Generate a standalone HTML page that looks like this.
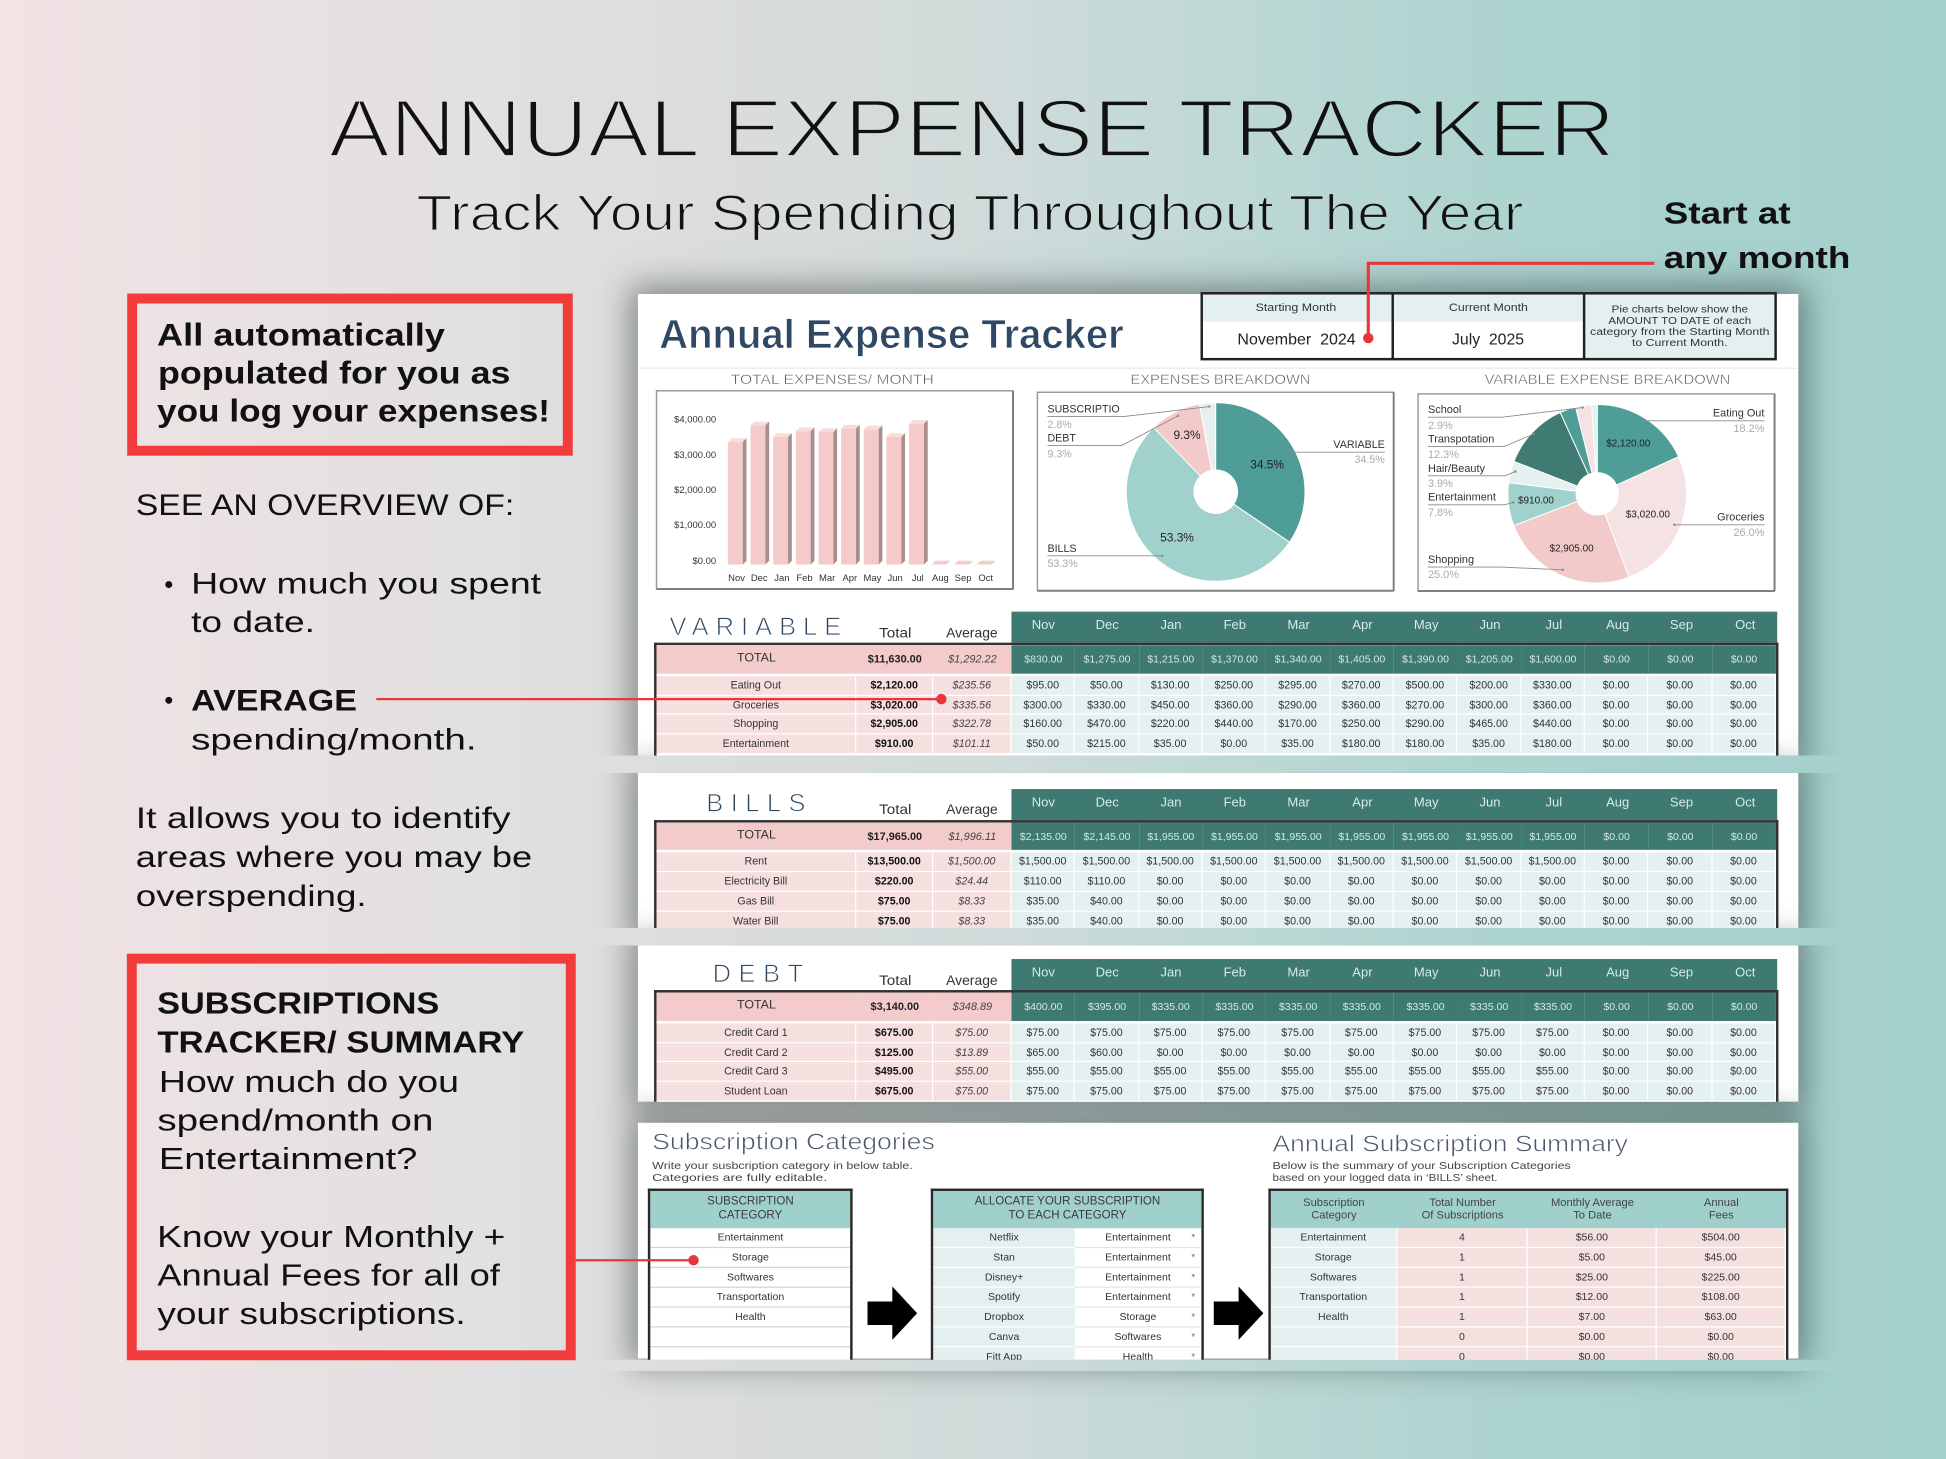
<!DOCTYPE html>
<html><head><meta charset="utf-8">
<style>
html,body{margin:0;padding:0;width:1946px;height:1459px;overflow:hidden;background:#dcdcdc}
#c{position:absolute;left:0;top:0;width:1568px;height:1176px;transform-origin:0 0;transform:scale(1.24107,1.24065);overflow:hidden;font-family:"Liberation Sans",sans-serif;
background:linear-gradient(90deg,#f2e3e4 0%,#e8e1e2 14%,#e0dfdf 28%,#d9dcdc 40%,#cedbda 52%,#bdd8d5 64%,#afd4d0 76%,#a7d1cd 88%,#a4d0cc 100%)}
.band{position:absolute;left:0;width:1568px;background:linear-gradient(90deg,#f2e3e4 0%,#e8e1e2 14%,#e0dfdf 28%,#d9dcdc 40%,#cedbda 52%,#bdd8d5 64%,#afd4d0 76%,#a7d1cd 88%,#a4d0cc 100%)}
.sheet{position:absolute;left:514px;width:934.5px;background:#fff;box-shadow:0 0 24px 6px rgba(40,48,48,.5)}
.hb{position:absolute;left:815px;width:617px;height:25px;background:#3e7a72;display:grid;grid-template-columns:repeat(12,1fr)}
.hb span{color:#d6ebe8;font-size:10.5px;text-align:center;line-height:23px}
.fr{position:absolute;background:#333}
.tbl{position:absolute;left:529px;width:902px;overflow:hidden;background:#fff}
.row{display:grid;grid-template-columns:161px 62px 63px repeat(12,51.333px)}
.row span{display:block;box-sizing:border-box;text-align:center;white-space:nowrap;overflow:hidden;font-size:8.6px;color:#333}
.t{height:22.7px;margin-bottom:1.6px}
.t span{line-height:22.7px;background:#3e7a72;color:#d3e9e6;font-size:8.5px}
.t span:nth-child(-n+3){background:#f4cbcb;color:#222}
.t span:first-child{font-size:10px;color:#333}
.t span:nth-child(2){font-weight:bold;font-size:8.8px}
.t span:nth-child(3){font-style:italic;font-size:8.8px;color:#444}
.d{height:15.9px}
.d span{line-height:15px;border-right:1px solid #fff;border-bottom:1px solid #fff;background:#e4f1f0}
.d span:nth-child(-n+3){background:#f6dfdf}
.d span:nth-child(2){font-weight:bold;color:#111}
.d span:nth-child(3){font-style:italic;color:#444}
.st{position:absolute;top:958px;height:137.5px;border:2px solid #2a2a2a;border-bottom:none;box-sizing:border-box;overflow:hidden;background:#fff}
.sh{height:29.8px;background:#a0d0cc;text-align:center;font-size:9.3px;color:#3a3a3a;line-height:11px;padding-top:3.2px;box-sizing:border-box}
.sr{display:grid;height:16.1px}
.sr span{display:block;position:relative;box-sizing:border-box;text-align:center;line-height:15.1px;font-size:8.5px;color:#333;white-space:nowrap;overflow:hidden;border-bottom:1px solid #d4d4d4}
.s2 span:first-child{background:#e3f0ef;border-bottom:1px solid #fff}
.s2 span:last-child{border-bottom:1px solid #e6e6e6}
.s2 em{position:absolute;right:5px;top:0;font-style:normal;font-size:6px;color:#999}
.sh3{display:grid;grid-template-columns:102.4px 105px 104.3px 1fr;height:29.8px;background:#a0d0cc}
.sh3 span{text-align:center;font-size:9px;line-height:10.8px;padding-top:3.6px;color:#444}
.s3{grid-template-columns:102.4px 105px 104.3px 1fr}
.s3 span{background:#f5e0e0;border-bottom:1px solid #fff;border-right:1px solid #fff}
.s3 span:first-child{background:#e4f1f0}
</style></head>
<body>
<div id="c">
<div class="sheet" style="top:236.5px;height:372.7px"></div>
<div class="sheet" style="top:623.2px;height:124.8px"></div>
<div class="sheet" style="top:762.3px;height:125.4px"></div>
<div class="sheet" style="top:904.6px;height:190.9px"></div>
<div class="band" style="top:609.2px;height:14px"></div>
<div class="band" style="top:748px;height:14.3px"></div>
<div class="band" style="top:1095.5px;height:9px"></div>

<!-- VARIABLE -->
<div class="hb" style="top:493.4px"><span>Nov</span><span>Dec</span><span>Jan</span><span>Feb</span><span>Mar</span><span>Apr</span><span>May</span><span>Jun</span><span>Jul</span><span>Aug</span><span>Sep</span><span>Oct</span></div>
<div class="fr" style="left:527px;top:518.4px;width:906px;height:2px"></div>
<div class="fr" style="left:527px;top:518.4px;width:2px;height:90.8px"></div>
<div class="fr" style="left:1431px;top:518.4px;width:2px;height:90.8px"></div>
<div class="tbl" style="top:520.4px;height:88.8px">
<div class="row t"><span>TOTAL</span><span>$11,630.00</span><span>$1,292.22</span><span>$830.00</span><span>$1,275.00</span><span>$1,215.00</span><span>$1,370.00</span><span>$1,340.00</span><span>$1,405.00</span><span>$1,390.00</span><span>$1,205.00</span><span>$1,600.00</span><span>$0.00</span><span>$0.00</span><span>$0.00</span></div>
<div class="row d"><span>Eating Out</span><span>$2,120.00</span><span>$235.56</span><span>$95.00</span><span>$50.00</span><span>$130.00</span><span>$250.00</span><span>$295.00</span><span>$270.00</span><span>$500.00</span><span>$200.00</span><span>$330.00</span><span>$0.00</span><span>$0.00</span><span>$0.00</span></div>
<div class="row d"><span>Groceries</span><span>$3,020.00</span><span>$335.56</span><span>$300.00</span><span>$330.00</span><span>$450.00</span><span>$360.00</span><span>$290.00</span><span>$360.00</span><span>$270.00</span><span>$300.00</span><span>$360.00</span><span>$0.00</span><span>$0.00</span><span>$0.00</span></div>
<div class="row d"><span>Shopping</span><span>$2,905.00</span><span>$322.78</span><span>$160.00</span><span>$470.00</span><span>$220.00</span><span>$440.00</span><span>$170.00</span><span>$250.00</span><span>$290.00</span><span>$465.00</span><span>$440.00</span><span>$0.00</span><span>$0.00</span><span>$0.00</span></div>
<div class="row d"><span>Entertainment</span><span>$910.00</span><span>$101.11</span><span>$50.00</span><span>$215.00</span><span>$35.00</span><span>$0.00</span><span>$35.00</span><span>$180.00</span><span>$180.00</span><span>$35.00</span><span>$180.00</span><span>$0.00</span><span>$0.00</span><span>$0.00</span></div>
</div>

<!-- BILLS -->
<div class="hb" style="top:635.8px"><span>Nov</span><span>Dec</span><span>Jan</span><span>Feb</span><span>Mar</span><span>Apr</span><span>May</span><span>Jun</span><span>Jul</span><span>Aug</span><span>Sep</span><span>Oct</span></div>
<div class="fr" style="left:527px;top:660.8px;width:906px;height:2px"></div>
<div class="fr" style="left:527px;top:660.8px;width:2px;height:87.2px"></div>
<div class="fr" style="left:1431px;top:660.8px;width:2px;height:87.2px"></div>
<div class="tbl" style="top:662.8px;height:85.2px">
<div class="row t"><span>TOTAL</span><span>$17,965.00</span><span>$1,996.11</span><span>$2,135.00</span><span>$2,145.00</span><span>$1,955.00</span><span>$1,955.00</span><span>$1,955.00</span><span>$1,955.00</span><span>$1,955.00</span><span>$1,955.00</span><span>$1,955.00</span><span>$0.00</span><span>$0.00</span><span>$0.00</span></div>
<div class="row d"><span>Rent</span><span>$13,500.00</span><span>$1,500.00</span><span>$1,500.00</span><span>$1,500.00</span><span>$1,500.00</span><span>$1,500.00</span><span>$1,500.00</span><span>$1,500.00</span><span>$1,500.00</span><span>$1,500.00</span><span>$1,500.00</span><span>$0.00</span><span>$0.00</span><span>$0.00</span></div>
<div class="row d"><span>Electricity Bill</span><span>$220.00</span><span>$24.44</span><span>$110.00</span><span>$110.00</span><span>$0.00</span><span>$0.00</span><span>$0.00</span><span>$0.00</span><span>$0.00</span><span>$0.00</span><span>$0.00</span><span>$0.00</span><span>$0.00</span><span>$0.00</span></div>
<div class="row d"><span>Gas Bill</span><span>$75.00</span><span>$8.33</span><span>$35.00</span><span>$40.00</span><span>$0.00</span><span>$0.00</span><span>$0.00</span><span>$0.00</span><span>$0.00</span><span>$0.00</span><span>$0.00</span><span>$0.00</span><span>$0.00</span><span>$0.00</span></div>
<div class="row d"><span>Water Bill</span><span>$75.00</span><span>$8.33</span><span>$35.00</span><span>$40.00</span><span>$0.00</span><span>$0.00</span><span>$0.00</span><span>$0.00</span><span>$0.00</span><span>$0.00</span><span>$0.00</span><span>$0.00</span><span>$0.00</span><span>$0.00</span></div>
</div>

<!-- DEBT -->
<div class="hb" style="top:773.4px"><span>Nov</span><span>Dec</span><span>Jan</span><span>Feb</span><span>Mar</span><span>Apr</span><span>May</span><span>Jun</span><span>Jul</span><span>Aug</span><span>Sep</span><span>Oct</span></div>
<div class="fr" style="left:527px;top:798.4px;width:906px;height:2px"></div>
<div class="fr" style="left:527px;top:798.4px;width:2px;height:89.3px"></div>
<div class="fr" style="left:1431px;top:798.4px;width:2px;height:89.3px"></div>
<div class="tbl" style="top:800.4px;height:87.3px">
<div class="row t"><span>TOTAL</span><span>$3,140.00</span><span>$348.89</span><span>$400.00</span><span>$395.00</span><span>$335.00</span><span>$335.00</span><span>$335.00</span><span>$335.00</span><span>$335.00</span><span>$335.00</span><span>$335.00</span><span>$0.00</span><span>$0.00</span><span>$0.00</span></div>
<div class="row d"><span>Credit Card 1</span><span>$675.00</span><span>$75.00</span><span>$75.00</span><span>$75.00</span><span>$75.00</span><span>$75.00</span><span>$75.00</span><span>$75.00</span><span>$75.00</span><span>$75.00</span><span>$75.00</span><span>$0.00</span><span>$0.00</span><span>$0.00</span></div>
<div class="row d"><span>Credit Card 2</span><span>$125.00</span><span>$13.89</span><span>$65.00</span><span>$60.00</span><span>$0.00</span><span>$0.00</span><span>$0.00</span><span>$0.00</span><span>$0.00</span><span>$0.00</span><span>$0.00</span><span>$0.00</span><span>$0.00</span><span>$0.00</span></div>
<div class="row d"><span>Credit Card 3</span><span>$495.00</span><span>$55.00</span><span>$55.00</span><span>$55.00</span><span>$55.00</span><span>$55.00</span><span>$55.00</span><span>$55.00</span><span>$55.00</span><span>$55.00</span><span>$55.00</span><span>$0.00</span><span>$0.00</span><span>$0.00</span></div>
<div class="row d"><span>Student Loan</span><span>$675.00</span><span>$75.00</span><span>$75.00</span><span>$75.00</span><span>$75.00</span><span>$75.00</span><span>$75.00</span><span>$75.00</span><span>$75.00</span><span>$75.00</span><span>$75.00</span><span>$0.00</span><span>$0.00</span><span>$0.00</span></div>
</div>

<!-- Subscription tables -->
<div class="st" style="left:522px;width:165.3px">
<div class="sh">SUBSCRIPTION<br>CATEGORY</div>
<div class="sr"><span>Entertainment</span></div>
<div class="sr"><span>Storage</span></div>
<div class="sr"><span>Softwares</span></div>
<div class="sr"><span>Transportation</span></div>
<div class="sr"><span>Health</span></div>
<div class="sr"><span></span></div>
<div class="sr"><span></span></div>
</div>
<div class="st" style="left:750.3px;width:219.7px">
<div class="sh">ALLOCATE YOUR SUBSCRIPTION<br>TO EACH CATEGORY</div>
<div class="sr s2" style="grid-template-columns:113.5px 1fr"><span>Netflix</span><span>Entertainment<em>▾</em></span></div>
<div class="sr s2" style="grid-template-columns:113.5px 1fr"><span>Stan</span><span>Entertainment<em>▾</em></span></div>
<div class="sr s2" style="grid-template-columns:113.5px 1fr"><span>Disney+</span><span>Entertainment<em>▾</em></span></div>
<div class="sr s2" style="grid-template-columns:113.5px 1fr"><span>Spotify</span><span>Entertainment<em>▾</em></span></div>
<div class="sr s2" style="grid-template-columns:113.5px 1fr"><span>Dropbox</span><span>Storage<em>▾</em></span></div>
<div class="sr s2" style="grid-template-columns:113.5px 1fr"><span>Canva</span><span>Softwares<em>▾</em></span></div>
<div class="sr s2" style="grid-template-columns:113.5px 1fr"><span>Fitt App</span><span>Health<em>▾</em></span></div>
</div>
<div class="st" style="left:1021.6px;width:419px">
<div class="sh3"><span>Subscription<br>Category</span><span>Total Number<br>Of Subscriptions</span><span>Monthly Average<br>To Date</span><span>Annual<br>Fees</span></div>
<div class="sr s3"><span>Entertainment</span><span>4</span><span>$56.00</span><span>$504.00</span></div>
<div class="sr s3"><span>Storage</span><span>1</span><span>$5.00</span><span>$45.00</span></div>
<div class="sr s3"><span>Softwares</span><span>1</span><span>$25.00</span><span>$225.00</span></div>
<div class="sr s3"><span>Transportation</span><span>1</span><span>$12.00</span><span>$108.00</span></div>
<div class="sr s3"><span>Health</span><span>1</span><span>$7.00</span><span>$63.00</span></div>
<div class="sr s3"><span></span><span>0</span><span>$0.00</span><span>$0.00</span></div>
<div class="sr s3"><span></span><span>0</span><span>$0.00</span><span>$0.00</span></div>
</div>

<svg style="position:absolute;left:0;top:0" width="1568" height="1176" viewBox="0 0 1568 1176" font-family="Liberation Sans, sans-serif">
<defs>
<linearGradient id="bgg" gradientUnits="userSpaceOnUse" x1="0" y1="0" x2="1568" y2="0">
<stop offset="0" stop-color="#f2e3e4"/><stop offset="0.14" stop-color="#e8e1e2"/><stop offset="0.28" stop-color="#e0dfdf"/><stop offset="0.40" stop-color="#d9dcdc"/><stop offset="0.52" stop-color="#cedbda"/><stop offset="0.64" stop-color="#bdd8d5"/><stop offset="0.76" stop-color="#afd4d0"/><stop offset="0.88" stop-color="#a7d1cd"/><stop offset="1" stop-color="#a4d0cc"/>
</linearGradient>
</defs>
<!-- Headline -->
<g fill="#111">
<text x="264.9" y="126.2" font-size="66" textLength="1036.7" lengthAdjust="spacingAndGlyphs" stroke="url(#bgg)" stroke-width="2.2">ANNUAL EXPENSE TRACKER</text>
<text x="335.6" y="185.3" font-size="40" textLength="892" lengthAdjust="spacingAndGlyphs" stroke="url(#bgg)" stroke-width="1.1">Track Your Spending Throughout The Year</text>
<text x="1340.6" y="180" font-size="24.5" font-weight="bold" textLength="102.2" lengthAdjust="spacingAndGlyphs">Start at</text>
<text x="1340.6" y="216.2" font-size="24.5" font-weight="bold" textLength="150.4" lengthAdjust="spacingAndGlyphs">any month</text>
</g>

<!-- Left panel -->
<rect x="106.5" y="240.6" width="351" height="122.7" fill="none" stroke="#f23b3b" stroke-width="8"/>
<rect x="106.2" y="772.7" width="353.7" height="319.7" fill="none" stroke="#f23b3b" stroke-width="8"/>
<g fill="#111" font-size="25" font-weight="bold">
<text x="126.5" y="278.5" textLength="232" lengthAdjust="spacingAndGlyphs">All automatically</text>
<text x="127.3" y="309.2" textLength="284" lengthAdjust="spacingAndGlyphs">populated for you as</text>
<text x="126.5" y="339.6" textLength="316.7" lengthAdjust="spacingAndGlyphs">you log your expenses!</text>
</g>
<g fill="#111" font-size="24">
<text x="109.4" y="415.1" textLength="305" lengthAdjust="spacingAndGlyphs">SEE AN OVERVIEW OF:</text>
<text x="154" y="478.3" textLength="282" lengthAdjust="spacingAndGlyphs">How much you spent</text>
<text x="154" y="509.6" textLength="99.8" lengthAdjust="spacingAndGlyphs">to date.</text>
<text x="154" y="572.8" font-weight="bold" textLength="133.6" lengthAdjust="spacingAndGlyphs">AVERAGE</text>
<text x="154" y="604" textLength="230" lengthAdjust="spacingAndGlyphs">spending/month.</text>
<text x="109.4" y="667.5" textLength="302" lengthAdjust="spacingAndGlyphs">It allows you to identify</text>
<text x="109.4" y="698.8" textLength="319.4" lengthAdjust="spacingAndGlyphs">areas where you may be</text>
<text x="109.4" y="730.1" textLength="186" lengthAdjust="spacingAndGlyphs">overspending.</text>
</g>
<circle cx="136" cy="471.2" r="2.8" fill="#111"/>
<circle cx="136" cy="564.5" r="2.8" fill="#111"/>
<g fill="#111" font-size="24.3">
<text x="126.6" y="817.1" font-weight="bold" textLength="227.4" lengthAdjust="spacingAndGlyphs">SUBSCRIPTIONS</text>
<text x="126.8" y="848.2" font-weight="bold" textLength="295.7" lengthAdjust="spacingAndGlyphs">TRACKER/ SUMMARY</text>
<text x="128" y="880" textLength="241.8" lengthAdjust="spacingAndGlyphs">How much do you</text>
<text x="126.8" y="911.2" textLength="222.4" lengthAdjust="spacingAndGlyphs">spend/month on</text>
<text x="128" y="942.4" textLength="208.3" lengthAdjust="spacingAndGlyphs">Entertainment?</text>
<text x="126.6" y="1005" textLength="280.6" lengthAdjust="spacingAndGlyphs">Know your Monthly +</text>
<text x="126.8" y="1036" textLength="276" lengthAdjust="spacingAndGlyphs">Annual Fees for all of</text>
<text x="126.8" y="1067" textLength="248.4" lengthAdjust="spacingAndGlyphs">your subscriptions.</text>
</g>

<!-- Top sheet header -->
<line x1="514" y1="296.8" x2="1448" y2="296.8" stroke="#ececec" stroke-width="1"/>
<text x="531.2" y="280.7" font-size="33" font-weight="bold" fill="#2f4965" textLength="374.2" lengthAdjust="spacingAndGlyphs" stroke="#fff" stroke-width="0.6">Annual Expense Tracker</text>
<rect x="968.3" y="236.4" width="308.1" height="22.8" fill="#e3f0ef"/>
<rect x="1276.4" y="236.4" width="154.3" height="53.1" fill="#e3f0ef"/>
<rect x="968.3" y="236.4" width="462.4" height="53.1" fill="none" stroke="#222" stroke-width="2"/>
<line x1="1122.2" y1="236.4" x2="1122.2" y2="289.5" stroke="#222" stroke-width="2"/>
<line x1="1276.4" y1="236.4" x2="1276.4" y2="289.5" stroke="#222" stroke-width="2"/>
<g fill="#333" text-anchor="middle">
<text x="1044.2" y="250.6" font-size="8.8" textLength="65" lengthAdjust="spacingAndGlyphs">Starting Month</text>
<text x="1199.3" y="250.6" font-size="8.8" textLength="63.7" lengthAdjust="spacingAndGlyphs">Current Month</text>
<text x="1044.7" y="277.5" font-size="12.3" fill="#222" textLength="95.3" lengthAdjust="spacingAndGlyphs">November&#160; 2024</text>
<text x="1199" y="277.5" font-size="12.3" fill="#222" textLength="58" lengthAdjust="spacingAndGlyphs">July&#160; 2025</text>
<text x="1353.5" y="252" font-size="8.3" textLength="110" lengthAdjust="spacingAndGlyphs">Pie charts below show the</text>
<text x="1353.5" y="261" font-size="8.3" textLength="115" lengthAdjust="spacingAndGlyphs">AMOUNT TO DATE of each</text>
<text x="1353.5" y="270.2" font-size="8.3" textLength="144.6" lengthAdjust="spacingAndGlyphs">category from the Starting Month</text>
<text x="1353.5" y="279" font-size="8.3" textLength="77" lengthAdjust="spacingAndGlyphs">to Current Month.</text>
</g>
<path d="M1333,212.2 H1102.5 V272.5" stroke="#e8373c" stroke-width="2.5" fill="none"/>
<circle cx="1102.5" cy="272.5" r="4.2" fill="#e8373c"/>

<!-- Chart titles -->
<g fill="#555" font-size="11.3" text-anchor="middle" stroke="#fff" stroke-width="0.35">
<text x="670.6" y="309.7" textLength="163.6" lengthAdjust="spacingAndGlyphs">TOTAL EXPENSES/ MONTH</text>
<text x="983.4" y="309.7" textLength="145.2" lengthAdjust="spacingAndGlyphs">EXPENSES BREAKDOWN</text>
<text x="1295.2" y="309.7" textLength="198" lengthAdjust="spacingAndGlyphs">VARIABLE EXPENSE BREAKDOWN</text>
</g>
<!-- Chart boxes -->
<g fill="#fff" stroke="#9a9a9a" stroke-width="1.2">
<rect x="529" y="315" width="287" height="159.6"/>
<rect x="835.9" y="316.2" width="287" height="159.8"/>
<rect x="1142.6" y="317.5" width="287.1" height="158.7"/>
</g>
<g stroke="#7d7d7d" stroke-width="1.5">
<line x1="529" y1="474.8" x2="816.5" y2="474.8"/><line x1="816.3" y1="315" x2="816.3" y2="474.8"/>
<line x1="835.9" y1="476.2" x2="1123.2" y2="476.2"/><line x1="1123" y1="316.2" x2="1123" y2="476.2"/>
<line x1="1142.6" y1="476.4" x2="1430" y2="476.4"/><line x1="1429.9" y1="317.5" x2="1429.9" y2="476.4"/>
</g>

<!-- Bar chart -->
<g fill="#333" font-size="7.6" text-anchor="end">
<text x="577" y="340.6">$4,000.00</text>
<text x="577" y="369">$3,000.00</text>
<text x="577" y="397.5">$2,000.00</text>
<text x="577" y="425.7">$1,000.00</text>
<text x="577" y="454.5">$0.00</text>
</g>
<g fill="#f4caca">
<rect x="586.5" y="356.2" width="12" height="98.8"/>
<rect x="604.75" y="342.8" width="12" height="112.2"/>
<rect x="623" y="352.2" width="12" height="102.8"/>
<rect x="641.25" y="347.6" width="12" height="107.4"/>
<rect x="659.5" y="348.3" width="12" height="106.7"/>
<rect x="677.75" y="345.5" width="12" height="109.5"/>
<rect x="696" y="346" width="12" height="109"/>
<rect x="714.25" y="352.2" width="12" height="102.8"/>
<rect x="732.5" y="341.6" width="12" height="113.4"/>
<polygon points="750.75,455 753.75,452 765.75,452 762.75,455"/>
<polygon points="769,455 772,452 784,452 781,455"/>
<polygon points="787.25,455 790.25,452 802.25,452 799.25,455"/>
</g>
<g fill="#f8dcdc">
<polygon points="586.5,356.2 589.5,353.2 601.5,353.2 598.5,356.2"/>
<polygon points="604.75,342.8 607.75,339.8 619.75,339.8 616.75,342.8"/>
<polygon points="623,352.2 626,349.2 638,349.2 635,352.2"/>
<polygon points="641.25,347.6 644.25,344.6 656.25,344.6 653.25,347.6"/>
<polygon points="659.5,348.3 662.5,345.3 674.5,345.3 671.5,348.3"/>
<polygon points="677.75,345.5 680.75,342.5 692.75,342.5 689.75,345.5"/>
<polygon points="696,346 699,343 711,343 708,346"/>
<polygon points="714.25,352.2 717.25,349.2 729.25,349.2 726.25,352.2"/>
<polygon points="732.5,341.6 735.5,338.6 747.5,338.6 744.5,341.6"/>
</g>
<g fill="#a88e8e">
<polygon points="598.5,356.2 601.5,353.2 601.5,452 598.5,455"/>
<polygon points="616.75,342.8 619.75,339.8 619.75,452 616.75,455"/>
<polygon points="635,352.2 638,349.2 638,452 635,455"/>
<polygon points="653.25,347.6 656.25,344.6 656.25,452 653.25,455"/>
<polygon points="671.5,348.3 674.5,345.3 674.5,452 671.5,455"/>
<polygon points="689.75,345.5 692.75,342.5 692.75,452 689.75,455"/>
<polygon points="708,346 711,343 711,452 708,455"/>
<polygon points="726.25,352.2 729.25,349.2 729.25,452 726.25,455"/>
<polygon points="744.5,341.6 747.5,338.6 747.5,452 744.5,455"/>
</g>
<g fill="#333" font-size="7.6" text-anchor="middle">
<text x="593.5" y="468.2">Nov</text><text x="611.75" y="468.2">Dec</text><text x="630" y="468.2">Jan</text><text x="648.25" y="468.2">Feb</text><text x="666.5" y="468.2">Mar</text><text x="684.75" y="468.2">Apr</text><text x="703" y="468.2">May</text><text x="721.25" y="468.2">Jun</text><text x="739.5" y="468.2">Jul</text><text x="757.75" y="468.2">Aug</text><text x="776" y="468.2">Sep</text><text x="794.25" y="468.2">Oct</text>
</g>

<!-- Pie 1 -->
<g stroke="#fff" stroke-width="0.8">
<path d="M979.5,396.5 L979.5,324.5 A72,72 0 0 1 1039.05,436.97 Z" fill="#4e9d96"/>
<path d="M979.5,396.5 L1039.05,436.97 A72,72 0 1 1 929.56,344.64 Z" fill="#a1d1cc"/>
<path d="M979.5,396.5 L929.56,344.64 A72,72 0 0 1 966.45,325.69 Z" fill="#f3caca"/>
<path d="M979.5,396.5 L966.45,325.69 A72,72 0 0 1 979.5,324.5 Z" fill="#e5f1f0"/>
</g>
<circle cx="979.6" cy="396.3" r="18" fill="#fff"/>
<g fill="#222" font-size="9.6" text-anchor="middle">
<text x="956.5" y="354">9.3%</text>
<text x="1021" y="377.5">34.5%</text>
<text x="948.4" y="436.5">53.3%</text>
</g>
<g fill="none" stroke="#8a8a8a" stroke-width="0.7">
<polyline points="844,335.7 906,335.7 974.4,327.7"/>
<polyline points="844,359 904,359 949.2,335.2"/>
<polyline points="844,448 936.6,448"/>
<polyline points="1115.8,364.5 1038.4,364.5"/>
</g>
<g fill="#8a8a8a"><circle cx="974.4" cy="327.7" r="1"/><circle cx="949.2" cy="335.2" r="1"/><circle cx="936.6" cy="448" r="1"/><circle cx="1038.4" cy="364.5" r="1"/></g>
<g font-size="8.6">
<text x="844" y="332.5" fill="#333">SUBSCRIPTIO</text>
<text x="844" y="345" fill="#aaa">2.8%</text>
<text x="844" y="356" fill="#333">DEBT</text>
<text x="844" y="368.8" fill="#aaa">9.3%</text>
<text x="844" y="445" fill="#333">BILLS</text>
<text x="844" y="457.1" fill="#aaa">53.3%</text>
<text x="1115.8" y="361.3" fill="#333" text-anchor="end">VARIABLE</text>
<text x="1115.8" y="373.3" fill="#aaa" text-anchor="end">34.5%</text>
</g>

<!-- Pie 2 -->
<g stroke="#fff" stroke-width="0.8">
<path d="M1287,398 L1287,326 A72,72 0 0 1 1352.53,368.16 Z" fill="#4e9d96"/>
<path d="M1287,398 L1352.53,368.16 A72,72 0 0 1 1312.66,465.27 Z" fill="#f5e2e2"/>
<path d="M1287,398 L1312.66,465.27 A72,72 0 0 1 1219.72,423.66 Z" fill="#f3caca"/>
<path d="M1287,398 L1219.72,423.66 A72,72 0 0 1 1215.57,388.98 Z" fill="#a1d1cc"/>
<path d="M1287,398 L1215.57,388.98 A72,72 0 0 1 1219.89,371.92 Z" fill="#e5f1f0"/>
<path d="M1287,398 L1219.89,371.92 A72,72 0 0 1 1257.16,332.47 Z" fill="#3f7b72"/>
<path d="M1287,398 L1257.16,332.47 A72,72 0 0 1 1269.53,328.15 Z" fill="#4e9d96"/>
<path d="M1287,398 L1269.53,328.15 A72,72 0 0 1 1282.48,326.14 Z" fill="#f5e2e2"/>
<path d="M1287,398 L1282.48,326.14 A72,72 0 0 1 1287,326 Z" fill="#e5f1f0"/>
</g>
<circle cx="1287" cy="398" r="17.5" fill="#fff"/>
<g fill="#222" font-size="8" text-anchor="middle">
<text x="1312" y="360">$2,120.00</text>
<text x="1237.6" y="406">$910.00</text>
<text x="1327.8" y="417.3">$3,020.00</text>
<text x="1266.3" y="444.6">$2,905.00</text>
</g>
<g fill="none" stroke="#8a8a8a" stroke-width="0.7">
<polyline points="1150.6,336.3 1210.5,336.3 1275.2,328.5"/>
<polyline points="1150.6,359.9 1212,359.9 1236,349.7"/>
<polyline points="1150.6,383.5 1213,383.5 1221,380"/>
<polyline points="1150.6,406.9 1212,406.9 1219.4,405"/>
<polyline points="1150.6,457.1 1210,457.1 1259.3,459.3"/>
<polyline points="1421.7,339.2 1323.6,339.2"/>
<polyline points="1421.7,423 1349.1,423"/>
</g>
<g fill="#8a8a8a"><circle cx="1275.2" cy="328.5" r="1"/><circle cx="1236" cy="349.7" r="1"/><circle cx="1221" cy="380" r="1"/><circle cx="1219.4" cy="405" r="1"/><circle cx="1259.3" cy="459.3" r="1"/><circle cx="1323.6" cy="339.2" r="1"/><circle cx="1349.1" cy="423" r="1"/></g>
<g font-size="8.8">
<text x="1150.6" y="333" fill="#333">School</text>
<text x="1150.6" y="345.7" fill="#aaa">2.9%</text>
<text x="1150.6" y="356.7" fill="#333">Transpotation</text>
<text x="1150.6" y="369.3" fill="#aaa">12.3%</text>
<text x="1150.6" y="380.3" fill="#333">Hair/Beauty</text>
<text x="1150.6" y="392.7" fill="#aaa">3.9%</text>
<text x="1150.6" y="403.4" fill="#333">Entertainment</text>
<text x="1150.6" y="415.8" fill="#aaa">7.8%</text>
<text x="1150.6" y="453.9" fill="#333">Shopping</text>
<text x="1150.6" y="466" fill="#aaa">25.0%</text>
<text x="1421.7" y="335.7" fill="#333" text-anchor="end">Eating Out</text>
<text x="1421.7" y="348.4" fill="#aaa" text-anchor="end">18.2%</text>
<text x="1421.7" y="419.5" fill="#333" text-anchor="end">Groceries</text>
<text x="1421.7" y="431.9" fill="#aaa" text-anchor="end">26.0%</text>
</g>

<!-- Section titles -->
<g fill="#2f4862" font-size="20.5" stroke="#fff" stroke-width="0.7">
<text x="539.5" y="511.7" textLength="138.3" lengthAdjust="spacing">VARIABLE</text>
<text x="569.1" y="654.1" textLength="79.9" lengthAdjust="spacing">BILLS</text>
<text x="574.2" y="791.7" textLength="73" lengthAdjust="spacing">DEBT</text>
</g>
<g fill="#333" font-size="11" text-anchor="middle">
<text x="721.4" y="513.8" textLength="26" lengthAdjust="spacingAndGlyphs">Total</text>
<text x="783.1" y="513.8" textLength="41.6" lengthAdjust="spacingAndGlyphs">Average</text>
<text x="721.4" y="656.2" textLength="26" lengthAdjust="spacingAndGlyphs">Total</text>
<text x="783.1" y="656.2" textLength="41.6" lengthAdjust="spacingAndGlyphs">Average</text>
<text x="721.4" y="793.8" textLength="26" lengthAdjust="spacingAndGlyphs">Total</text>
<text x="783.1" y="793.8" textLength="41.6" lengthAdjust="spacingAndGlyphs">Average</text>
</g>

<!-- Subscription sheet texts -->
<g fill="#4b5869" stroke="#fff" stroke-width="0.5">
<text x="525.5" y="926.7" font-size="18.5" textLength="227.7" lengthAdjust="spacingAndGlyphs">Subscription Categories</text>
<text x="1025.3" y="928" font-size="18.5" textLength="286.4" lengthAdjust="spacingAndGlyphs">Annual Subscription Summary</text>
</g>
<g fill="#444" font-size="8.4">
<text x="525.5" y="942.3" textLength="210" lengthAdjust="spacingAndGlyphs">Write your susbcription category in below table.</text>
<text x="525.5" y="952" textLength="141" lengthAdjust="spacingAndGlyphs">Categories are fully editable.</text>
<text x="1025.3" y="942.3" textLength="240.3" lengthAdjust="spacingAndGlyphs">Below is the summary of your Subscription Categories</text>
<text x="1025.3" y="952" textLength="181.3" lengthAdjust="spacingAndGlyphs">based on your logged data in ‘BILLS’ sheet.</text>
</g>
<!-- Arrows -->
<polygon points="699,1049 719,1049 719,1037 739,1058.5 719,1080 719,1068 699,1068" fill="#000"/>
<polygon points="978,1049 998,1049 998,1037 1018,1058.5 998,1080 998,1068 978,1068" fill="#000"/>

<!-- Red pointer lines -->
<line x1="303.2" y1="563.5" x2="758.5" y2="563.5" stroke="#e8373c" stroke-width="1.8"/>
<circle cx="758.5" cy="563.5" r="4.2" fill="#e8373c"/>
<line x1="463.9" y1="1015.8" x2="558.5" y2="1015.8" stroke="#e8373c" stroke-width="1.8"/>
<circle cx="558.8" cy="1015.8" r="4.2" fill="#e8373c"/>
</svg>
</div>
</body></html>
